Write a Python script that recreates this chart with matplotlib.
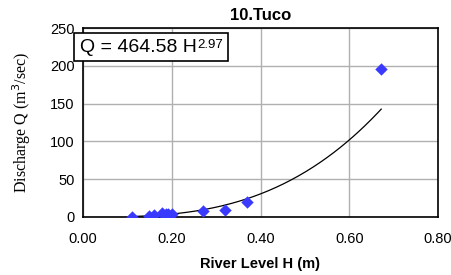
import numpy as np
import matplotlib
matplotlib.use("Agg")
import matplotlib.pyplot as plt
from matplotlib.patches import Rectangle

# observed points
level_h = [0.110, 0.149, 0.159, 0.179, 0.186, 0.192, 0.200, 0.270, 0.321, 0.370, 0.672]
discharge_q = [0.5, 1.0, 2.0, 5.5, 4.0, 3.5, 3.5, 8.0, 9.0, 20.0, 196.0]

# rating curve Q = a H^b
coef_a = 464.58
expo_b = 2.97
curve_range = [0.11, 0.672]

x_ticks = [0.0, 0.2, 0.4, 0.6, 0.8]
y_ticks = [0, 50, 100, 150, 200, 250]

plt.rcParams["font.family"] = ["Liberation Sans", "DejaVu Sans"]

W, H = 452, 275
fig = plt.figure(figsize=(W / 100, H / 100), dpi=100)
ax = fig.add_axes([83 / W, 58 / H, 355 / W, 189 / H])

hh = np.linspace(curve_range[0], curve_range[1], 200)
ax.plot(hh, coef_a * hh ** expo_b, color="black", lw=0.9, zorder=2)
ax.scatter(level_h, discharge_q, marker="D", s=40, color="#3a3aff", zorder=3, linewidths=0)

ax.set_xlim(0, 0.8)
ax.set_ylim(0, 250)
ax.set_xticks(x_ticks)
ax.set_xticklabels([f"{v:.2f}" for v in x_ticks])
ax.set_yticks(y_ticks)
ax.tick_params(length=0, labelsize=10.5, colors="black")
ax.tick_params(axis="x", pad=11)
ax.tick_params(axis="y", pad=6)
ax.grid(True, color="#b0b0b0", lw=1)
ax.set_axisbelow(True)
for s in ax.spines.values():
    s.set_linewidth(1.2)
    s.set_color("black")

ax.set_title("10.Tuco", fontsize=12, fontweight="bold", pad=6)
ax.set_xlabel("River Level H (m)", fontsize=10.5, fontweight="bold", labelpad=8)
ax.set_ylabel("Discharge Q (m$^3$/sec)", fontsize=11.5, family=["Liberation Serif"], labelpad=12)

# equation box
main = fig.text(80 / W, 1 - 48 / H, f"Q = {coef_a:.2f} H", fontsize=14,
                va="center", ha="left", zorder=6)
fig.canvas.draw()
rend = fig.canvas.get_renderer()
bb = main.get_window_extent(rend)
sup = fig.text((bb.x1 + 0.5) / W, (bb.y1 + 1) / H, f"{expo_b:.2f}",
               fontsize=9.5, va="top", ha="left", zorder=6)
fig.canvas.draw()
sb = sup.get_window_extent(rend)
x0, x1 = 74, max(sb.x1, bb.x1) + 5
y0, y1 = H - 61, H - 33
fig.patches.append(Rectangle((x0 / W, y0 / H), (x1 - x0) / W, (y1 - y0) / H,
                             transform=fig.transFigure, fc="white", ec="black",
                             lw=1.2, zorder=5))

fig.savefig("out.png", dpi=100)
